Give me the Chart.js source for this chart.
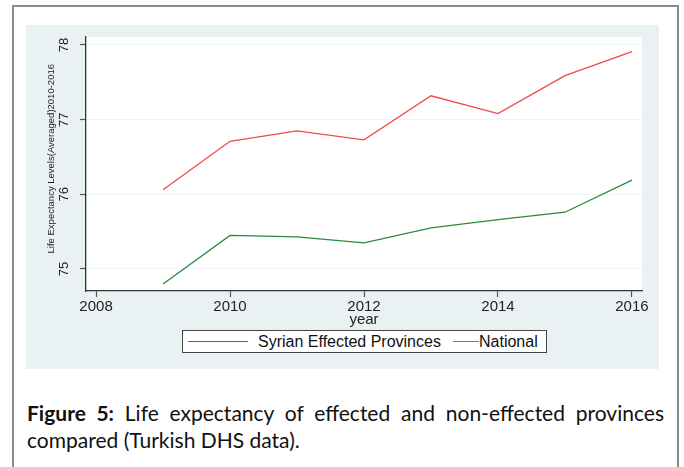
<!DOCTYPE html>
<html>
<head>
<meta charset="utf-8">
<script src="https://cdn.jsdelivr.net/npm/chart.js@4/dist/chart.umd.min.js"></script>
<style>
  html, body { margin: 0; padding: 0; background: #ffffff; width: 684px; height: 467px; overflow: hidden; }
  #frame { position: absolute; left: 12px; top: 5px; width: 667px; height: 480px; border: 2px solid #8a8a8a; box-sizing: border-box; }
  #panel { position: absolute; left: 26px; top: 25px; width: 633px; height: 344px; background: #e9f1f3; }
  #chartWrap { position: absolute; left: 26px; top: 25px; width: 633px; height: 344px; }
  #legend { position: absolute; left: 182px; top: 330px; width: 365px; height: 23px; border: 1px solid #444; background: #ffffff; box-sizing: border-box;
            font-family: "Liberation Sans", Arial, sans-serif; font-size: 16px; color: #111; }
  .ln { position: absolute; top: 10px; height: 0; border-top: 1.3px solid; }
  .lt { position: absolute; top: 1px; line-height: 20px; white-space: nowrap; }
  .cap { position: absolute; left: 27px; width: 637px; font-family: Lato, "Open Sans", sans-serif; font-size: 21px; line-height: 27px; color: #111; white-space: nowrap; }
  #cap1 { top: 399px; text-align: justify; text-align-last: justify; white-space: normal; }
  #cap2 { top: 426px; }
  .cap b { font-weight: 700; }
</style>
</head>
<body>
<div id="frame"></div>
<div id="panel"></div>
<div id="chartWrap"><canvas id="c" width="633" height="344"></canvas></div>
<div id="legend">
  <div class="ln" style="left:5px;width:60px;border-color:#2a8a3e;"></div>
  <div class="lt" style="left:75px;">Syrian Effected Provinces</div>
  <div class="ln" style="left:270px;width:26px;border-color:#f4474a;"></div>
  <div class="lt" style="left:296px;">National</div>
</div>
<div class="cap" id="cap1"><b>Figure 5:</b> Life expectancy of effected and non-effected provinces</div>
<div class="cap" id="cap2">compared (Turkish DHS data).</div>
<script>
const years = [2009, 2010, 2011, 2012, 2013, 2014, 2015, 2016];
const syrianEffected = [74.80, 75.45, 75.43, 75.35, 75.55, 75.66, 75.76, 76.19];
const national = [76.06, 76.71, 76.85, 76.73, 77.32, 77.08, 77.59, 77.91];
const xTicks = [2008, 2010, 2012, 2014, 2016];
const yTicks = [75, 76, 77, 78];

const toPts = (vals) => years.map((y, i) => ({ x: y, y: vals[i] }));

const plotBg = {
  id: 'plotBg',
  beforeDraw(chart) {
    const { ctx, chartArea: a } = chart;
    ctx.save();
    ctx.fillStyle = '#ffffff';
    ctx.fillRect(a.left, a.top, a.right - a.left, a.bottom - a.top);
    ctx.restore();
  }
};

new Chart(document.getElementById('c'), {
  type: 'line',
  data: {
    datasets: [
      { label: 'Syrian Effected Provinces', data: toPts(syrianEffected), borderColor: '#2a8a3e', borderWidth: 1.3, pointRadius: 0, tension: 0, fill: false },
      { label: 'National', data: toPts(national), borderColor: '#f4474a', borderWidth: 1.3, pointRadius: 0, tension: 0, fill: false }
    ]
  },
  options: {
    responsive: false,
    animation: false,
    events: [],
    layout: { padding: { left: 0, top: 12, right: 17, bottom: 40 } },
    plugins: { legend: { display: false }, tooltip: { enabled: false } },
    scales: {
      x: {
        type: 'linear',
        min: 2007.85, max: 2016.15,
        afterBuildTicks: (s) => { s.ticks = xTicks.map(v => ({ value: v })); },
        afterFit: (s) => { s.height = 38; s.paddingLeft = 0; s.paddingRight = 0; },
        ticks: { includeBounds: false, autoSkip: false, maxRotation: 0, padding: 1, color: '#222',
                 font: { family: 'Liberation Sans', size: 15 }, callback: (v) => String(v) },
        grid: { drawOnChartArea: false, tickLength: 6, tickColor: '#555', tickWidth: 1.2 },
        border: { color: '#333', width: 1.3 },
        title: { display: true, text: 'year', color: '#222', font: { family: 'Liberation Sans', size: 15 }, padding: { top: 0, bottom: 0 } }
      },
      y: {
        type: 'linear',
        min: 74.705, max: 78.107,
        afterBuildTicks: (s) => { s.ticks = yTicks.map(v => ({ value: v })); },
        afterFit: (s) => { s.width = 60; s.paddingTop = 0; s.paddingBottom = 0; },
        ticks: { includeBounds: false, autoSkip: false, minRotation: 90, maxRotation: 90, crossAlign: 'center', padding: 8, color: '#222',
                 font: { family: 'Liberation Sans', size: 13 }, callback: (v) => String(v) },
        grid: { color: '#eef5f6', lineWidth: 1, tickColor: '#555', tickLength: 6, tickWidth: 1.2 },
        border: { color: '#333', width: 1.3 },
        title: { display: true, text: '    Life Expectancy Levels(Averaged)2010-2016', color: '#222', font: { family: 'Liberation Sans', size: 9.5 }, padding: { top: 20, bottom: 0 } }
      }
    }
  },
  plugins: [plotBg]
});
</script>
</body>
</html>
